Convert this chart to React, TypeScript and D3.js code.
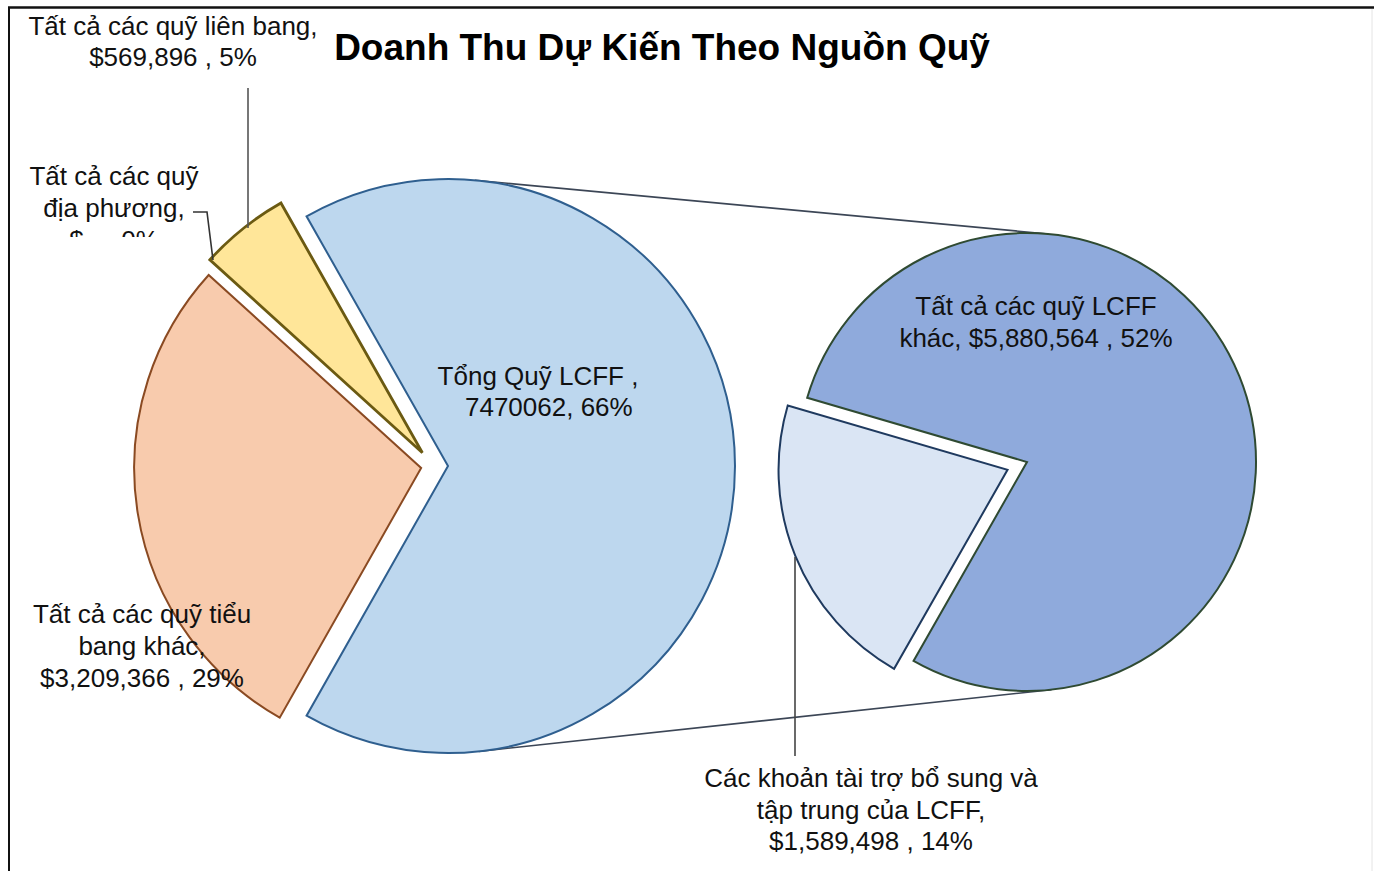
import * as d3 from "d3";

// --- data ---
const leftCategories = [
  "Tổng Quỹ LCFF",
  "Tất cả các quỹ tiểu bang khác",
  "Tất cả các quỹ liên bang",
  "Tất cả các quỹ địa phương",
];
const leftValues = [7470062, 3209366, 569896, 0];
const leftFills = ["#BDD7EE", "#F8CBAD", "#FFE699", "#F4B183"];
const leftStrokes = ["#2F5F8F", "#8A4A22", "#6B5A12", "#8A4A22"];

const rightCategories = [
  "Tất cả các quỹ LCFF khác",
  "Các khoản tài trợ bổ sung và tập trung của LCFF",
];
const rightValues = [5880564, 1589498];
const rightFills = ["#8FAADC", "#DAE5F4"];
const rightStrokes = ["#2F4A32", "#1F3A5F"];

const title = "Doanh Thu Dự Kiến Theo Nguồn Quỹ";

// label lines, one array per slice label
const labelFederal = ["Tất cả các quỹ liên bang,", "$569,896 , 5%"];
const labelLocal = ["Tất cả các quỹ", "địa phương,", "$ - , 0%"];
const labelLcff = ["Tổng Quỹ LCFF ,", "\u00a0\u00a0\u00a07470062, 66%"];
const labelState = ["Tất cả các quỹ tiểu", "bang khác,", "$3,209,366 , 29%"];
const labelOtherLcff = ["Tất cả các quỹ LCFF", "khác, $5,880,564 , 52%"];
const labelGrants = ["Các khoản tài trợ bổ sung và", "tập trung của LCFF,", "$1,589,498 , 14%"];

const W = 1374;
const H = 871;
const FONT = "'Liberation Sans', Arial, sans-serif";

export default function App() {
  // left pie
  const leftC = [433, 466];
  const leftR = 287;
  const leftExplode = [15, 12, 17, 0];
  const leftTotal = d3.sum(leftValues);
  const leftStart = Math.PI / 2 - (leftValues[0] / leftTotal) * Math.PI;
  const leftArcs = d3
    .pie<number>()
    .sort(null)
    .startAngle(leftStart)
    .endAngle(leftStart + 2 * Math.PI)(leftValues);
  const leftArc = d3.arc<any>().innerRadius(0).outerRadius(leftR);

  // right pie: light slice centred at 248deg (d3 angle)
  const rightC = [1027, 462];
  const rightR = 229;
  const rightExplode = [0, 21];
  const rightTotal = d3.sum(rightValues);
  const lightMid = (248 * Math.PI) / 180;
  const rightStart =
    lightMid - (rightValues[1] / rightTotal) * Math.PI - (rightValues[0] / rightTotal) * 2 * Math.PI;
  const rightArcs = d3
    .pie<number>()
    .sort(null)
    .startAngle(rightStart)
    .endAngle(rightStart + 2 * Math.PI)(rightValues);
  const rightArc = d3.arc<any>().innerRadius(0).outerRadius(rightR);

  const offset = (a: any, d: number) => {
    const m = (a.startAngle + a.endAngle) / 2;
    return [Math.sin(m) * d, -Math.cos(m) * d];
  };

  // connector lines: external tangents of the LCFF slice circle and the second pie
  const lo = offset(leftArcs[0], leftExplode[0]);
  const c1 = [leftC[0] + lo[0], leftC[1] + lo[1]];
  const c2 = rightC;
  const dx = c2[0] - c1[0];
  const dy = c2[1] - c1[1];
  const dist = Math.hypot(dx, dy);
  const base = Math.atan2(dy, dx);
  const phi = Math.acos((leftR - rightR) / dist);
  const tangents = [base - phi, base + phi].map((t) => {
    const n = [Math.cos(t), Math.sin(t)];
    return [c1[0] + n[0] * leftR, c1[1] + n[1] * leftR, c2[0] + n[0] * rightR, c2[1] + n[1] * rightR];
  });

  const label = (lines: string[], x: number, y: number, step: number) => (
    <text x={x} y={y} textAnchor="middle" fontFamily={FONT} fontSize={26} fill="#111">
      {lines.map((l, i) => (
        <tspan key={i} x={x} y={y + i * step}>
          {l}
        </tspan>
      ))}
    </text>
  );

  return (
    <svg
      width={W}
      height={H}
      style={{ position: "absolute", left: 0, top: 0, background: "#fff" }}
    >
      <defs>
        <clipPath id="clipLocal">
          <rect x={0} y={0} width={240} height={237} />
        </clipPath>
      </defs>

      {/* frame */}
      <line x1={8} y1={7.5} x2={W} y2={7.5} stroke="#111" strokeWidth={2.5} />
      <line x1={9} y1={7} x2={9} y2={H} stroke="#111" strokeWidth={2} />
      <line x1={1372} y1={9} x2={1372} y2={H} stroke="#e4e4e4" strokeWidth={1} />

      {/* connector lines */}
      {tangents.map((t, i) => (
        <line key={i} x1={t[0]} y1={t[1]} x2={t[2]} y2={t[3]} stroke="#3C4656" strokeWidth={1.6} />
      ))}

      {/* left pie */}
      {leftArcs.map((a, i) => {
        if (a.endAngle - a.startAngle < 1e-6) return null;
        const o = offset(a, leftExplode[i]);
        return (
          <path
            key={leftCategories[i]}
            d={leftArc(a) as string}
            transform={`translate(${leftC[0] + o[0]},${leftC[1] + o[1]})`}
            fill={leftFills[i]}
            stroke={leftStrokes[i]}
            strokeWidth={i === 2 ? 2.8 : 2}
            strokeLinejoin="miter"
          />
        );
      })}

      {/* right pie */}
      {rightArcs.map((a, i) => {
        const o = offset(a, rightExplode[i]);
        return (
          <path
            key={rightCategories[i]}
            d={rightArc(a) as string}
            transform={`translate(${rightC[0] + o[0]},${rightC[1] + o[1]})`}
            fill={rightFills[i]}
            stroke={rightStrokes[i]}
            strokeWidth={2}
          />
        );
      })}

      {/* leader lines */}
      <line x1={248} y1={88} x2={248} y2={228} stroke="#555" strokeWidth={1.6} />
      <polyline points="193,212 207,212 213,260" fill="none" stroke="#333" strokeWidth={1.6} />
      <line x1={795} y1={557} x2={795} y2={756} stroke="#444" strokeWidth={1.6} />

      {/* title */}
      <text
        x={662}
        y={60}
        textAnchor="middle"
        fontFamily={FONT}
        fontWeight="bold"
        fontSize={37}
        fill="#000"
      >
        {title}
      </text>

      {/* data labels */}
      {label(labelFederal, 173, 35, 31)}
      <g clipPath="url(#clipLocal)">{label(labelLocal, 114, 185, 32)}</g>
      {label(labelLcff, 538, 385, 31)}
      {label(labelState, 142, 623, 32)}
      {label(labelOtherLcff, 1036, 315, 32)}
      {label(labelGrants, 871, 787, 31.5)}
    </svg>
  );
}
